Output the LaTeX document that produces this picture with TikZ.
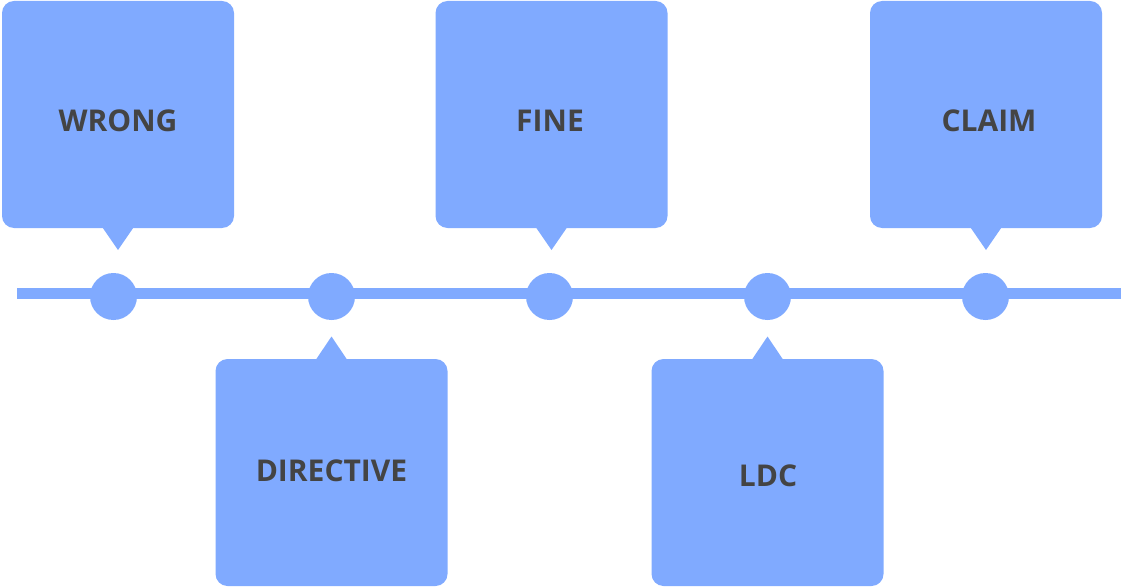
\documentclass[tikz,border=0pt]{standalone}
\usepackage{fontspec}
\setmainfont{Open Sans}
\usetikzlibrary{calc}
\definecolor{boxblue}{HTML}{80AAFF}
\definecolor{txtgray}{HTML}{444444}
\tikzset{
  box/.style={fill=boxblue, draw=none, rounded corners=12pt, minimum width=232pt, minimum height=227pt, inner sep=0pt, outer sep=0pt},
  dot/.style={circle, fill=boxblue, draw=none, minimum size=47pt, inner sep=0pt},
  lbl/.style={text=txtgray, font=\fontsize{30}{36}\selectfont\bfseries, inner sep=0pt},
  pointer/.style={fill=boxblue, draw=none},
  axis/.style={draw=boxblue, line width=11pt}
}
\begin{document}
\begin{tikzpicture}[x=1pt,y=-1pt]
\useasboundingbox (0,0) rectangle (1121,588);
% timeline
\coordinate (ls) at (17,293.5);
\coordinate (le) at (1121,293.5);
\draw[axis] (ls) -- (le);
% dots
\node[dot] (d1) at (113.5,296.5) {};
\node[dot] (d2) at (331.5,296.5) {};
\node[dot] (d3) at (549.5,296.5) {};
\node[dot] (d4) at (767.5,296.5) {};
\node[dot] (d5) at (985.5,296.5) {};
% top boxes
\node[box] (b1) at (118,114.5) {};
\node[box] (b3) at (551.5,114.5) {};
\node[box] (b5) at (986,114.5) {};
\foreach \b in {b1,b3,b5}{
  \fill[pointer] ($(\b.south)+(-15.5,-0.5)$) -- ($(\b.south)+(0,22)$) -- ($(\b.south)+(15.5,-0.5)$) -- cycle;
}
% bottom boxes
\node[box] (b2) at (331.5,472.5) {};
\node[box] (b4) at (767.5,472.5) {};
\foreach \b in {b2,b4}{
  \fill[pointer] ($(\b.north)+(-15.5,0.5)$) -- ($(\b.north)+(0,-22.5)$) -- ($(\b.north)+(15.5,0.5)$) -- cycle;
}
% labels
\node[lbl] (t1) at (118,121) {WRONG};
\node[lbl] (t3) at (550,121) {FINE};
\node[lbl] (t5) at (989,121) {CLAIM};
\node[lbl] (t2) at (331.5,471) {DIRECTIVE};
\node[lbl] (t4) at (768,476) {LDC};
\end{tikzpicture}
\end{document}
